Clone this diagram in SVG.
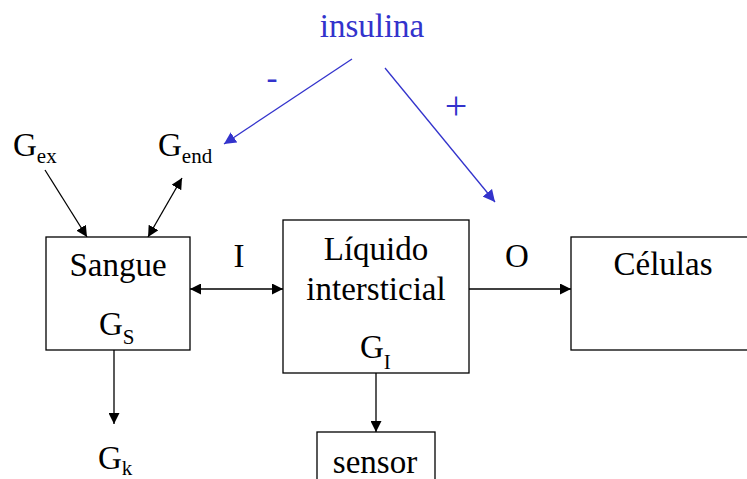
<svg xmlns="http://www.w3.org/2000/svg" width="747" height="479" viewBox="0 0 747 479" font-family="'Liberation Serif', 'Times New Roman', Times, 'DejaVu Serif', serif">
<defs>
<style>
.box{fill:#fff;stroke:#000;stroke-width:1.3}
text{font-family:'Liberation Serif','Times New Roman',Times,'DejaVu Serif',serif;font-size:33px;fill:#000}
.s{font-size:21px}
.b{fill:#3333cc}
.p{font-size:40px}
.c{stroke:#000;stroke-width:1.3;fill:none}
.cb{stroke:#3333cc;stroke-width:1.3;fill:none}
</style>
<marker id="ah" viewBox="0 0 10 10" refX="10" refY="5" markerWidth="11" markerHeight="11" markerUnits="userSpaceOnUse" orient="auto-start-reverse"><path d="M0,0L10,5L0,10z" fill="#000"/></marker>
<marker id="ahb" viewBox="0 0 10 10" refX="10" refY="5" markerWidth="12" markerHeight="12" markerUnits="userSpaceOnUse" orient="auto"><path d="M0,0L10,5L0,10z" fill="#3333cc"/></marker>
</defs>
<rect width="747" height="479" fill="#fff"/>
<g id="connectors">
<line class="c" x1="45" y1="170" x2="87" y2="237" marker-end="url(#ah)"/>
<line class="c" x1="148" y1="237" x2="182" y2="178" marker-start="url(#ah)" marker-end="url(#ah)"/>
<line class="c" x1="190" y1="289" x2="283" y2="289" marker-start="url(#ah)" marker-end="url(#ah)"/>
<line class="c" x1="469" y1="289" x2="571" y2="289" marker-end="url(#ah)"/>
<line class="c" x1="114" y1="350" x2="114" y2="424" marker-end="url(#ah)"/>
<line class="c" x1="376" y1="373" x2="376" y2="432" marker-end="url(#ah)"/>
<line class="cb" x1="352" y1="59" x2="224" y2="144" marker-end="url(#ahb)"/>
<line class="cb" x1="385" y1="68" x2="495" y2="202" marker-end="url(#ahb)"/>
<text class="b" x="272" y="89" text-anchor="middle">-</text>
<text class="b p" x="456" y="119" text-anchor="middle">+</text>
<text x="239" y="267" text-anchor="middle">I</text>
<text x="517" y="267" text-anchor="middle">O</text>
</g>
<g id="insulina"><text class="b" x="372" y="37" text-anchor="middle">insulina</text></g>
<g id="gex"><text x="13" y="156">G<tspan class="s" dy="7">ex</tspan></text></g>
<g id="gend"><text x="158" y="156">G<tspan class="s" dy="7">end</tspan></text></g>
<g id="sangue">
<rect class="box" x="46" y="237" width="144" height="113"/>
<text x="118" y="276" text-anchor="middle">Sangue</text>
<text x="99" y="335">G<tspan class="s" dy="9">S</tspan></text>
</g>
<g id="liquido">
<rect class="box" x="283" y="220" width="186" height="153"/>
<text x="376" y="260" text-anchor="middle">Líquido</text>
<text x="376" y="300" text-anchor="middle">intersticial</text>
<text x="360" y="358">G<tspan class="s" dy="11">I</tspan></text>
</g>
<g id="celulas">
<rect class="box" x="571" y="237" width="200" height="113"/>
<text x="663" y="275" text-anchor="middle">Células</text>
</g>
<g id="gk"><text x="98" y="469">G<tspan class="s" dy="6">k</tspan></text></g>
<g id="sensor">
<rect class="box" x="317" y="432" width="118" height="60"/>
<text x="375" y="473" text-anchor="middle">sensor</text>
</g>
</svg>
